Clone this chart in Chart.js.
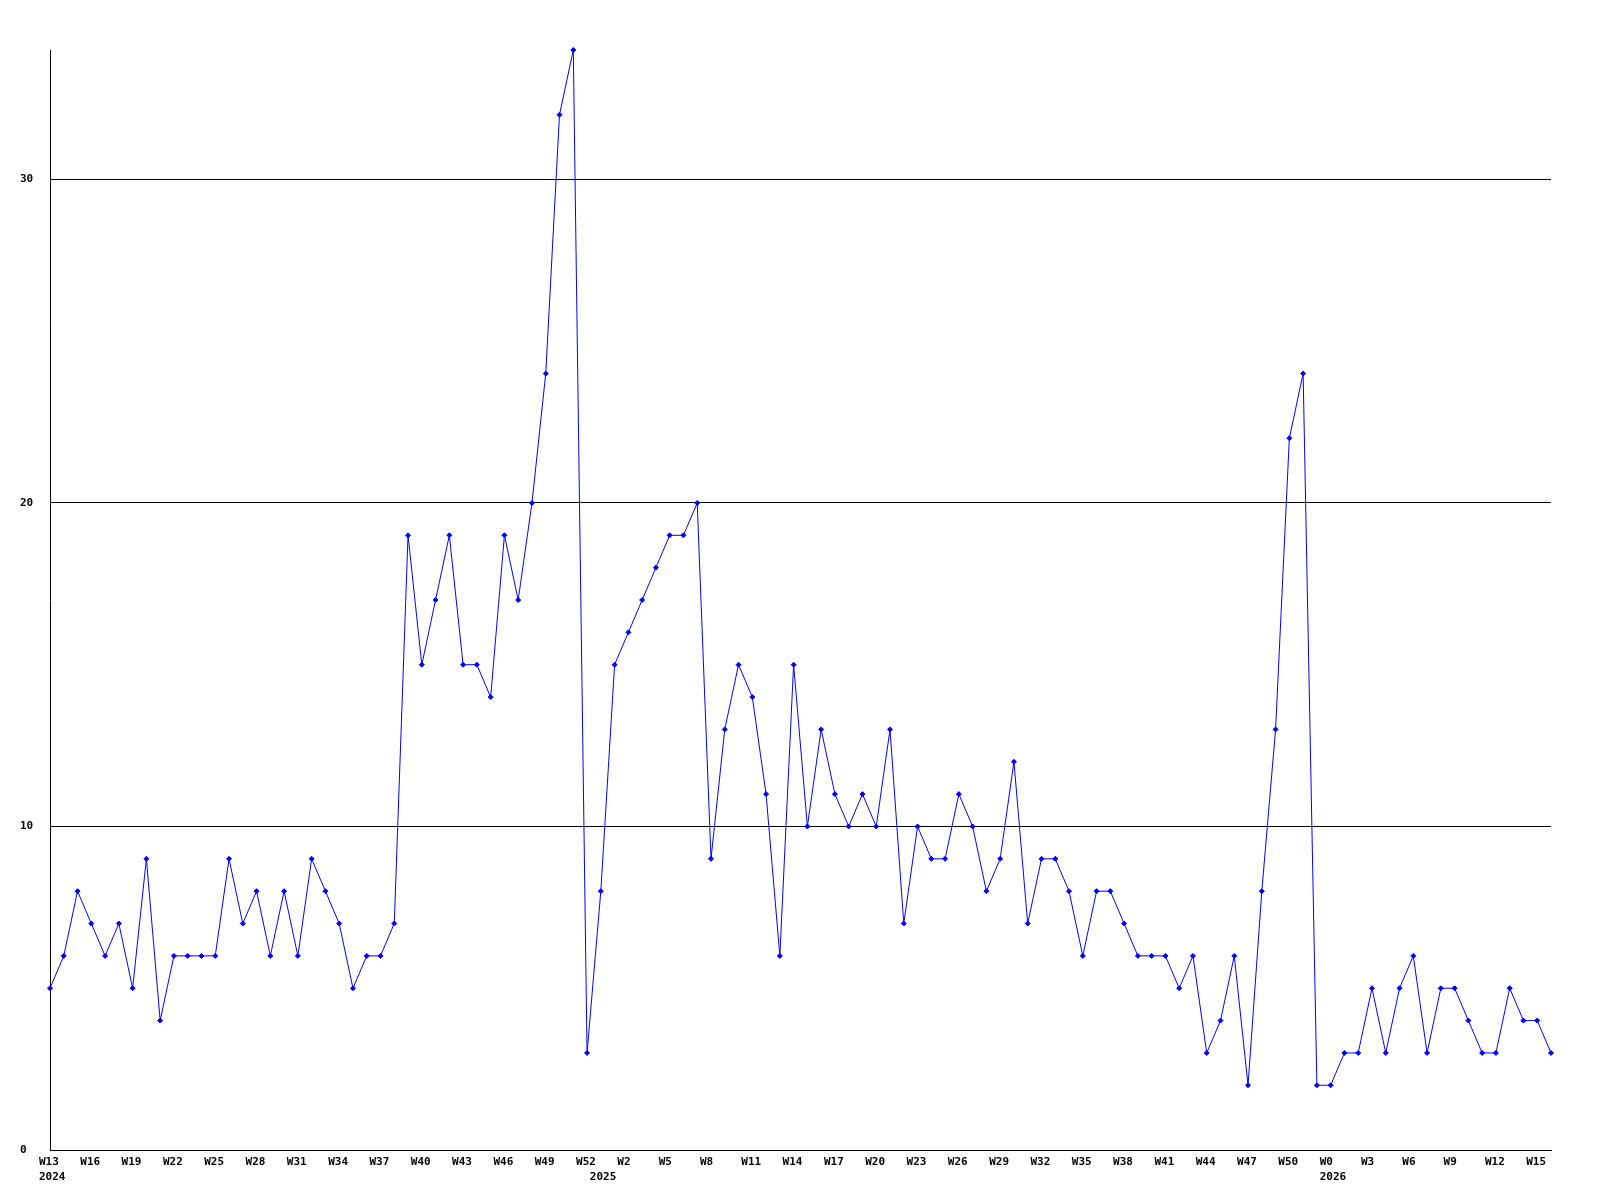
<!DOCTYPE html>
<html>
<head>
<meta charset="utf-8">
<title>Weekly count</title>
<script src="https://cdn.jsdelivr.net/npm/chart.js@4.4.1/dist/chart.umd.min.js"></script>
<style>
  html, body { margin: 0; padding: 0; background: #fff; }
  canvas { display: block; }
</style>
</head>
<body>
<canvas id="weekChart" width="1600" height="1200"></canvas>
<script>
// weeks as shown on the axis (%W style, so a year can start at W0)
const weeks2024 = ["W13","W14","W15","W16","W17","W18","W19","W20","W21","W22",
  "W23","W24","W25","W26","W27","W28","W29","W30","W31","W32",
  "W33","W34","W35","W36","W37","W38","W39","W40","W41","W42",
  "W43","W44","W45","W46","W47","W48","W49","W50","W51","W52"];
const weeks2025 = ["W0","W1","W2","W3","W4","W5","W6","W7","W8","W9",
  "W10","W11","W12","W13","W14","W15","W16","W17","W18","W19",
  "W20","W21","W22","W23","W24","W25","W26","W27","W28","W29",
  "W30","W31","W32","W33","W34","W35","W36","W37","W38","W39",
  "W40","W41","W42","W43","W44","W45","W46","W47","W48","W49",
  "W50","W51","W52"];
const weeks2026 = ["W0","W1","W2","W3","W4","W5","W6","W7","W8","W9",
  "W10","W11","W12","W13","W14","W15","W16"];

const counts2024 = [5,6,8,7,6,7,5,9,4,6, 6,6,6,9,7,8,6,8,6,9,
  8,7,5,6,6,7,19,15,17,19, 15,15,14,19,17,20,24,32,34,3];
const counts2025 = [8,15,16,17,18,19,19,20,9,13, 15,14,11,6,15,10,13,11,10,11,
  10,13,7,10,9,9,11,10,8,9, 12,7,9,9,8,6,8,8,7,6,
  6,6,5,6,3,4,6,2,8,13, 22,24,2];
const counts2026 = [2,3,3,5,3,5,6,3,5,5, 4,3,3,5,4,4,3];

const yearNames = ["2024", "2025", "2026"];
const yTicks = [0, 10, 20, 30];

const weeksByYear = [weeks2024, weeks2025, weeks2026];
const labels = [].concat(...weeksByYear);
const counts = [].concat(counts2024, counts2025, counts2026);

// first week of each year gets the year on a second line
const yearAt = {};
let pos = 0;
weeksByYear.forEach((w, i) => { yearAt[pos] = yearNames[i]; pos += w.length; });

const FONT = { family: "'DejaVu Sans Mono', monospace", size: 11, weight: "bold", lineHeight: 1.36 };

new Chart(document.getElementById("weekChart"), {
  type: "line",
  data: {
    labels,
    datasets: [{
      data: counts,
      borderColor: "#0000ff",
      backgroundColor: "#0000ff",
      borderWidth: 1,
      pointStyle: "rectRot",
      pointRadius: 2.5,
      pointBorderWidth: 1,
      tension: 0,
      clip: false
    }]
  },
  options: {
    responsive: false,
    animation: false,
    devicePixelRatio: 1,
    layout: { padding: { top: 50, right: 49, bottom: 0, left: 20 } },
    plugins: { legend: { display: false }, tooltip: { enabled: false } },
    scales: {
      x: {
        offset: false,
        grid: { display: false, drawTicks: false },
        border: { color: "#000", width: 1 },
        ticks: {
          autoSkip: false, maxRotation: 0, minRotation: 0,
          align: "start", labelOffset: -11, padding: 5,
          color: "#000", font: FONT,
          callback: (v, i) => {
            const wk = i % 3 === 0 ? labels[i] : "";
            return yearAt[i] ? [wk, yearAt[i]] : wk;
          }
        },
        afterFit: s => { s.height = 50; }
      },
      y: {
        min: 0,
        max: Math.max(...counts),
        grid: { color: "#000", lineWidth: 1, drawTicks: false },
        border: { color: "#000", width: 1 },
        ticks: { stepSize: 10, crossAlign: "far", padding: 0, color: "#000", font: FONT },
        afterBuildTicks: s => { s.ticks = yTicks.map(v => ({ value: v })); },
        afterFit: s => { s.width = 30; }
      }
    }
  }
});
</script>
</body>
</html>
